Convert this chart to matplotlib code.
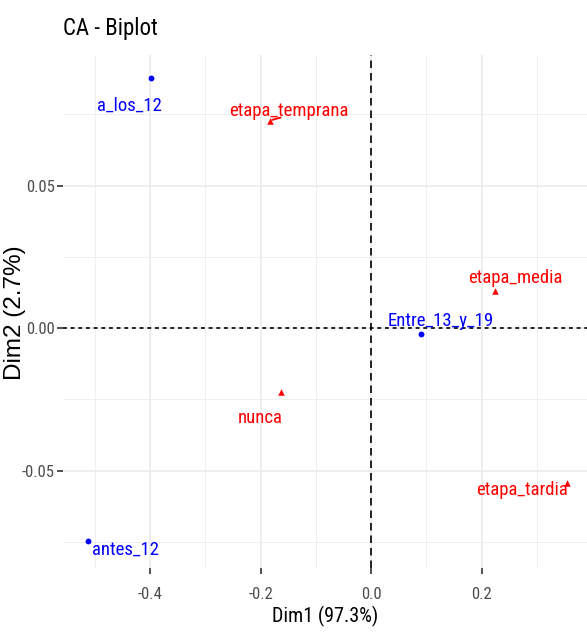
import matplotlib
matplotlib.use("Agg")
import matplotlib.pyplot as plt
from matplotlib import font_manager as fm
import numpy as np

# ---------------- data ----------------
row_names = ["a_los_12", "Entre_13_y_19", "antes_12"]
row_dim1 = [-0.398, 0.0896, -0.5126]
row_dim2 = [0.0876, -0.0022, -0.0746]

col_names = ["etapa_temprana", "etapa_media", "nunca", "etapa_tardia"]
col_dim1 = [-0.1837, 0.2248, -0.1625, 0.3544]
col_dim2 = [0.0728, 0.0131, -0.0224, -0.0545]

x_ticks = [-0.4, -0.2, 0.0, 0.2]
y_ticks = [-0.05, 0.0, 0.05]
x_title = "Dim1 (97.3%)"
y_title = "Dim2 (2.7%)"
title = "CA - Biplot"

# label offsets (pixels, from point to label baseline anchor) - layout only
row_off = [(-22, -32, "center"), (20, 8, "center"), (4, -14, "left")]
col_off = [(19, 5, "center"), (20, 8, "center"), (-21, -31, "center"), (-45, -12, "center")]

# ---------------- fonts ----------------
avail = {f.name for f in fm.fontManager.ttflist}
cond = next((f for f in ["Roboto Condensed", "Archivo Narrow", "Liberation Sans"] if f in avail), "DejaVu Sans")
regular = "Liberation Sans" if "Liberation Sans" in avail else "DejaVu Sans"
plt.rcParams["font.family"] = [cond, "DejaVu Sans"]

W, H = 587, 632
fig = plt.figure(figsize=(W / 100, H / 100), dpi=100)
ax = fig.add_axes([63 / W, 1 - 568 / H, (W - 63) / W, (568 - 55) / H])
ax.set_xlim(-0.558, 0.391)
ax.set_ylim(-0.0842, 0.0958)

for s in ax.spines.values():
    s.set_visible(False)

# grid
ax.set_xticks(x_ticks)
ax.set_yticks(y_ticks)
ax.set_xticks([-0.5, -0.3, -0.1, 0.1, 0.3], minor=True)
ax.set_yticks([-0.075, -0.025, 0.025, 0.075], minor=True)
ax.grid(True, which="major", color="#EBEBEB", lw=1.2)
ax.grid(True, which="minor", color="#EFEFEF", lw=0.7)
ax.set_axisbelow(True)
ax.tick_params(which="minor", length=0)
ax.tick_params(which="major", length=4.5, width=1.2, color="#333333",
               labelcolor="#4D4D4D", labelsize=12)
ax.tick_params(axis="x", pad=9)
ax.tick_params(axis="y", pad=1.5)
ax.set_xticklabels([f"{v:.1f}" for v in x_ticks])
ax.set_yticklabels([f"{v:.2f}" for v in y_ticks])

# reference lines
ax.axvline(0, color="black", lw=1.2, ls=(0, (4.5, 3)), zorder=2)
ax.axhline(0, color="black", lw=1.2, ls=(0, (2.3, 2.3)), zorder=2)

# points
ax.plot(row_dim1, row_dim2, "o", color="#0000FF", ms=4.2, mew=0, zorder=3)
ax.scatter(col_dim1, col_dim2, marker="^", color="#FF0000", s=22, lw=0, zorder=3)

for n, x, y, (dx, dy, ha) in zip(row_names, row_dim1, row_dim2, row_off):
    ax.annotate(n, (x, y), xytext=(dx, dy), textcoords="offset pixels",
                ha=ha, va="baseline", color="#0000FF", fontsize=13.5, zorder=4)
for n, x, y, (dx, dy, ha) in zip(col_names, col_dim1, col_dim2, col_off):
    ax.annotate(n, (x, y), xytext=(dx, dy), textcoords="offset pixels",
                ha=ha, va="baseline", color="#FF0000", fontsize=13.5, zorder=4)

# short repel segment for etapa_temprana
ax.annotate("", (col_dim1[0], col_dim2[0]), xytext=(11, 3), textcoords="offset pixels",
            arrowprops=dict(arrowstyle="-", color="#FF0000", lw=1.4, shrinkA=0, shrinkB=2))

ax.set_xlabel(x_title, fontsize=14.5, color="black")
ax.xaxis.set_label_coords(0.5, (568 - 606) / 513)
ax.set_ylabel(y_title, fontsize=17.5, color="black", family=[regular, "DejaVu Sans"])
ax.yaxis.set_label_coords((26 - 63) / 524, 0.497)
fig.text(63 / W, 1 - 35 / H, title, fontsize=16.5, color="black", ha="left", va="baseline")

fig.savefig("out.png", dpi=100)
